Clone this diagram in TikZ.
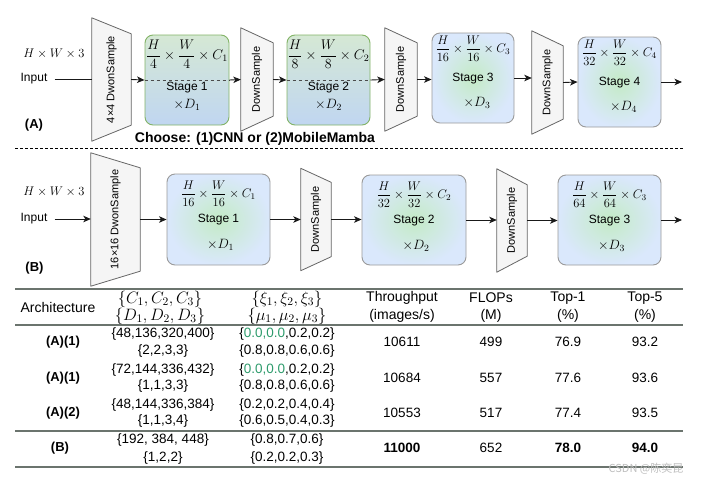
\RequirePackage{fix-cm}
\documentclass[tikz,border=0pt]{standalone}
\usepackage[no-math]{fontspec}
\setmainfont{Liberation Sans}
\newfontfamily\cjkfont{Noto Sans CJK SC}
\usepackage{graphicx}
\usetikzlibrary{arrows.meta,backgrounds}
\definecolor{greenbrd}{HTML}{82B366}
\definecolor{gAtop}{HTML}{D5E8D4}
\definecolor{gAbot}{HTML}{C0D6F1}
\definecolor{graybrd}{HTML}{9A9A9A}
\definecolor{gRin}{HTML}{C4EBC6}
\definecolor{gRout}{HTML}{DAE8FC}
\definecolor{trapfill}{HTML}{F5F5F5}
\definecolor{trapline}{HTML}{666666}
\definecolor{rulec}{HTML}{6B746E}
\definecolor{hlgreen}{HTML}{2E9B6C}
\newcommand\trapz[2]{\begin{scope}[on background layer]
  \draw[trapsh] (#1.north west) -- ([yshift=-#2]#1.north east) -- ([yshift=#2]#1.south east) -- (#1.south west) -- cycle;
\end{scope}}
\tikzset{
  trapsh/.style={fill=trapfill, draw=trapline, line width=0.8pt, line join=round},
  dsbox/.style={inner sep=0pt, font=\fontsize{11}{13}\selectfont},
  stageA/.style={draw=greenbrd, line width=0.9pt, rounded corners=8pt, top color=gAtop, bottom color=gAbot, inner sep=0pt, minimum height=90pt},
  stageR/.style={draw=graybrd, line width=0.9pt, rounded corners=8pt, inner color=gRin, outer color=gRout, inner sep=0pt, minimum height=90pt},
  fr/.style={inner sep=0pt, font=\fontsize{12.5}{14}\selectfont},
  frbig/.style={inner sep=0pt, font=\fontsize{14}{16}\selectfont},
  lab/.style={inner sep=0pt, font=\fontsize{12}{14}\selectfont},
  mult/.style={inner sep=0pt, font=\fontsize{13.5}{15}\selectfont},
  small/.style={inner sep=0pt, font=\fontsize{12}{14}\selectfont},
  smallm/.style={inner sep=0pt, font=\fontsize{12.5}{14}\selectfont},
  boldlab/.style={inner sep=0pt, font=\fontsize{13}{15}\selectfont\bfseries},
  arr/.style={-{Stealth[length=7.5pt,width=6.5pt,inset=2pt]}, line width=0.9pt, draw=black!90},
  ln/.style={line width=0.9pt, draw=black!90},
  rule/.style={draw=rulec, line width=1.5pt},
  tb/.style={inner sep=0pt, font=\fontsize{13.5}{15}\selectfont},
  tbh/.style={inner sep=0pt, font=\fontsize{14}{16}\selectfont},
  tbb/.style={inner sep=0pt, font=\fontsize{13}{15}\selectfont\bfseries},
  tbbn/.style={inner sep=0pt, font=\fontsize{13.5}{15}\selectfont\bfseries},
  tbm/.style={inner sep=0pt, font=\fontsize{16.5}{18}\selectfont},
}
\begin{document}
\begin{tikzpicture}[x=1pt,y=-1pt]
\useasboundingbox (0,0) rectangle (705,483);
% ---------------- (A) ----------------
\node[small] (inA) at (34,79) {Input};
\node[smallm] (hwA) at (54,54) {$H\times W\times 3$};
\node[dsbox, minimum width=39pt, minimum height=123pt] (d1) at (111.5,79.5) {\rotatebox{90}{4×4 DwonSample}};
\trapz{d1}{16pt}
\node[stageA, minimum width=84pt] (s1) at (187,80) {};
\node[dsbox, minimum width=32pt, minimum height=103pt] (d2) at (257,79.5) {\rotatebox{90}{DownSample}};
\trapz{d2}{15pt}
\node[stageA, minimum width=83pt] (s2) at (328.5,80) {};
\node[dsbox, minimum width=32pt, minimum height=103pt] (d3) at (401,79.5) {\rotatebox{90}{DownSample}};
\trapz{d3}{15pt}
\node[stageR, minimum width=82pt] (s3) at (473,78) {};
\node[dsbox, minimum width=31pt, minimum height=103pt] (d4) at (547.5,82.5) {\rotatebox{90}{DownSample}};
\trapz{d4}{15pt}
\node[stageR, minimum width=83pt] (s4) at (619.5,82) {};
\coordinate (outA) at (682,82);
% stage texts A
\node[frbig] (s1f) at ([yshift=-20pt]s1.north) {$\displaystyle\frac{H}{4}\times\frac{W}{4}\times C_1$};
\node[lab] (s1l) at ([yshift=-53pt]s1.north) {Stage 1};
\node[mult] (s1d) at ([yshift=-70pt]s1.north) {$\times D_1$};
\node[frbig] (s2f) at ([yshift=-20pt]s2.north) {$\displaystyle\frac{H}{8}\times\frac{W}{8}\times C_2$};
\node[lab] (s2l) at ([yshift=-53pt]s2.north) {Stage 2};
\node[mult] (s2d) at ([yshift=-70pt]s2.north) {$\times D_2$};
\node[fr] (s3f) at ([yshift=-16pt]s3.north) {$\displaystyle\frac{H}{16}\times\frac{W}{16}\times C_3$};
\node[lab] (s3l) at ([yshift=-46pt]s3.north) {Stage 3};
\node[mult] (s3d) at ([xshift=4pt,yshift=-70pt]s3.north) {$\times D_3$};
\node[fr] (s4f) at ([yshift=-16pt]s4.north) {$\displaystyle\frac{H}{32}\times\frac{W}{32}\times C_4$};
\node[lab] (s4l) at ([yshift=-46pt]s4.north) {Stage 4};
\node[mult] (s4d) at ([xshift=4pt,yshift=-70pt]s4.north) {$\times D_4$};
% connectors A
\draw[ln] ([xshift=7pt]inA.east) -- (inA.east -| d1.west);
\draw[arr] (d1.east) -- (s1.west);
\draw[dashed, draw=black!70, line width=0.7pt] (s1.west) -- (s1.east);
\draw[arr] (s1.east) -- (d2.west);
\draw[arr] (d2.east) -- (s2.west);
\draw[dashed, draw=black!70, line width=0.7pt] (s2.west) -- (s2.east);
\draw[arr] (s2.east) -- (d3.west);
\draw[arr] (d3.east) -- (d3.east -| s3.west);
\draw[arr] (s3.east) -- (s3.east -| d4.west);
\draw[arr] (d4.east) -- (s4.west);
\draw[arr] (s4.east) -- (outA);
\node[boldlab] (labA) at (34,125) {(A)};
\node[inner sep=0pt, font=\fontsize{14}{16}\selectfont\bfseries] (choose) at (255,139) {Choose: (1)CNN or (2)MobileMamba};
% separator
\coordinate (sepL) at (15,148);
\coordinate (sepR) at (683,148);
\draw[dash pattern=on 3pt off 2pt, line width=0.8pt] (sepL) -- (sepR);
% ---------------- (B) ----------------
\node[small] (inB) at (34,219) {Input};
\node[smallm] (hwB) at (54,192) {$H\times W\times 3$};
\node[dsbox, minimum width=49pt, minimum height=133pt] (d5) at (115.5,219.5) {\rotatebox{90}{16×16 DwonSample}};
\trapz{d5}{15pt}
\node[stageR, minimum width=103pt, minimum height=91pt] (s5) at (218.5,219.5) {};
\node[dsbox, minimum width=30pt, minimum height=102pt] (d6) at (316,219.5) {\rotatebox{90}{DownSample}};
\trapz{d6}{14pt}
\node[stageR, minimum width=104pt] (s6) at (414,220) {};
\node[dsbox, minimum width=30pt, minimum height=103pt] (d7) at (512,220.5) {\rotatebox{90}{DownSample}};
\trapz{d7}{16pt}
\node[stageR, minimum width=103pt] (s7) at (609.5,220) {};
\coordinate (outB) at (682,220);
\node[fr] (s5f) at ([yshift=-20pt]s5.north) {$\displaystyle\frac{H}{16}\times\frac{W}{16}\times C_1$};
\node[lab] (s5l) at ([yshift=-46pt]s5.north) {Stage 1};
\node[mult] (s5d) at ([xshift=2pt,yshift=-71pt]s5.north) {$\times D_1$};
\node[fr] (s6f) at ([yshift=-20pt]s6.north) {$\displaystyle\frac{H}{32}\times\frac{W}{32}\times C_2$};
\node[lab] (s6l) at ([yshift=-46pt]s6.north) {Stage 2};
\node[mult] (s6d) at ([xshift=2pt,yshift=-71pt]s6.north) {$\times D_2$};
\node[fr] (s7f) at ([yshift=-20pt]s7.north) {$\displaystyle\frac{H}{64}\times\frac{W}{64}\times C_3$};
\node[lab] (s7l) at ([yshift=-46pt]s7.north) {Stage 3};
\node[mult] (s7d) at ([xshift=2pt,yshift=-71pt]s7.north) {$\times D_3$};
\draw[arr] ([xshift=7pt]inB.east) -- (inB.east -| d5.west);
\draw[arr] (d5.east) -- (d5.east -| s5.west);
\draw[arr] (s5.east) -- (s5.east -| d6.west);
\draw[arr] (d6.east) -- (d6.east -| s6.west);
\draw[arr] (s6.east) -- (s6.east -| d7.west);
\draw[arr] (d7.east) -- (d7.east -| s7.west);
\draw[arr] (s7.east) -- (outB);
\node[boldlab] (labB) at (34.5,268) {(B)};
% ---------------- table ----------------
\draw[rule] (15,289) -- (683,289);
\draw[rule] (15,325) -- (683,325);
\draw[rule] (15,431) -- (683,431);
\draw[rule] (15,467) -- (683,467);
\node[tbh] (hA) at (58,307) {Architecture};
\node[tbm] (hC) at (160,299) {$\{C_1,C_2,C_3\}$};
\node[tbm] (hD) at (160,316) {$\{D_1,D_2,D_3\}$};
\node[tbm] (hX) at (287,299) {$\{\xi_1,\xi_2,\xi_3\}$};
\node[tbm] (hM) at (287,316) {$\{\mu_1,\mu_2,\mu_3\}$};
\node[tbh] (hT1) at (402,298) {Throughput};
\node[tbh] (hT2) at (402,316) {(images/s)};
\node[tbh] (hF1) at (491,298) {FLOPs};
\node[tbh] (hF2) at (491,316) {(M)};
\node[tbh] (hP1) at (568,298) {Top-1};
\node[tbh] (hP2) at (568,316) {(\%)};
\node[tbh] (hQ1) at (645,298) {Top-5};
\node[tbh] (hQ2) at (645,316) {(\%)};
% row 1
\node[tbb] (r1a) at (63,342) {(A)(1)};
\node[tb] (r1c) at (163,334) {\{48,136,320,400\}};
\node[tb] (r1d) at (163,351) {\{2,2,3,3\}};
\node[tb] (r1x) at (287,334) {\{\textcolor{hlgreen}{0.0,0.0},0.2,0.2\}};
\node[tb] (r1m) at (287,351) {\{0.8,0.8,0.6,0.6\}};
\node[tb] (r1t) at (402,342) {10611};
\node[tb] (r1f) at (491,342) {499};
\node[tb] (r1p) at (568,342) {76.9};
\node[tb] (r1q) at (645,342) {93.2};
% row 2
\node[tbb] (r2a) at (63,378) {(A)(1)};
\node[tb] (r2c) at (163,370) {\{72,144,336,432\}};
\node[tb] (r2d) at (163,386) {\{1,1,3,3\}};
\node[tb] (r2x) at (287,370) {\{\textcolor{hlgreen}{0.0,0.0},0.2,0.2\}};
\node[tb] (r2m) at (287,386) {\{0.8,0.8,0.6,0.6\}};
\node[tb] (r2t) at (402,378) {10684};
\node[tb] (r2f) at (491,378) {557};
\node[tb] (r2p) at (568,378) {77.6};
\node[tb] (r2q) at (645,378) {93.6};
% row 3
\node[tbb] (r3a) at (63,413) {(A)(2)};
\node[tb] (r3c) at (163,405) {\{48,144,336,384\}};
\node[tb] (r3d) at (163,421) {\{1,1,3,4\}};
\node[tb] (r3x) at (287,405) {\{0.2,0.2,0.4,0.4\}};
\node[tb] (r3m) at (287,421) {\{0.6,0.5,0.4,0.3\}};
\node[tb] (r3t) at (402,413) {10553};
\node[tb] (r3f) at (491,413) {517};
\node[tb] (r3p) at (568,413) {77.4};
\node[tb] (r3q) at (645,413) {93.5};
% row 4
\node[tbb] (r4a) at (60,448) {(B)};
\node[tb] (r4c) at (163,440) {\{192, 384, 448\}};
\node[tb] (r4d) at (163,458) {\{1,2,2\}};
\node[tb] (r4x) at (287,440) {\{0.8,0.7,0.6\}};
\node[tb] (r4m) at (287,458) {\{0.2,0.2,0.3\}};
\node[tbbn] (r4t) at (402,448) {11000};
\node[tb] (r4f) at (491,448) {652};
\node[tbbn] (r4p) at (568,448) {78.0};
\node[tbbn] (r4q) at (645,448) {94.0};
% watermark
\node[inner sep=0pt, text=black!25, font=\fontsize{11}{13}\selectfont] (wm) at (646,469) {\cjkfont CSDN @陈奕昆};
\end{tikzpicture}
\end{document}
